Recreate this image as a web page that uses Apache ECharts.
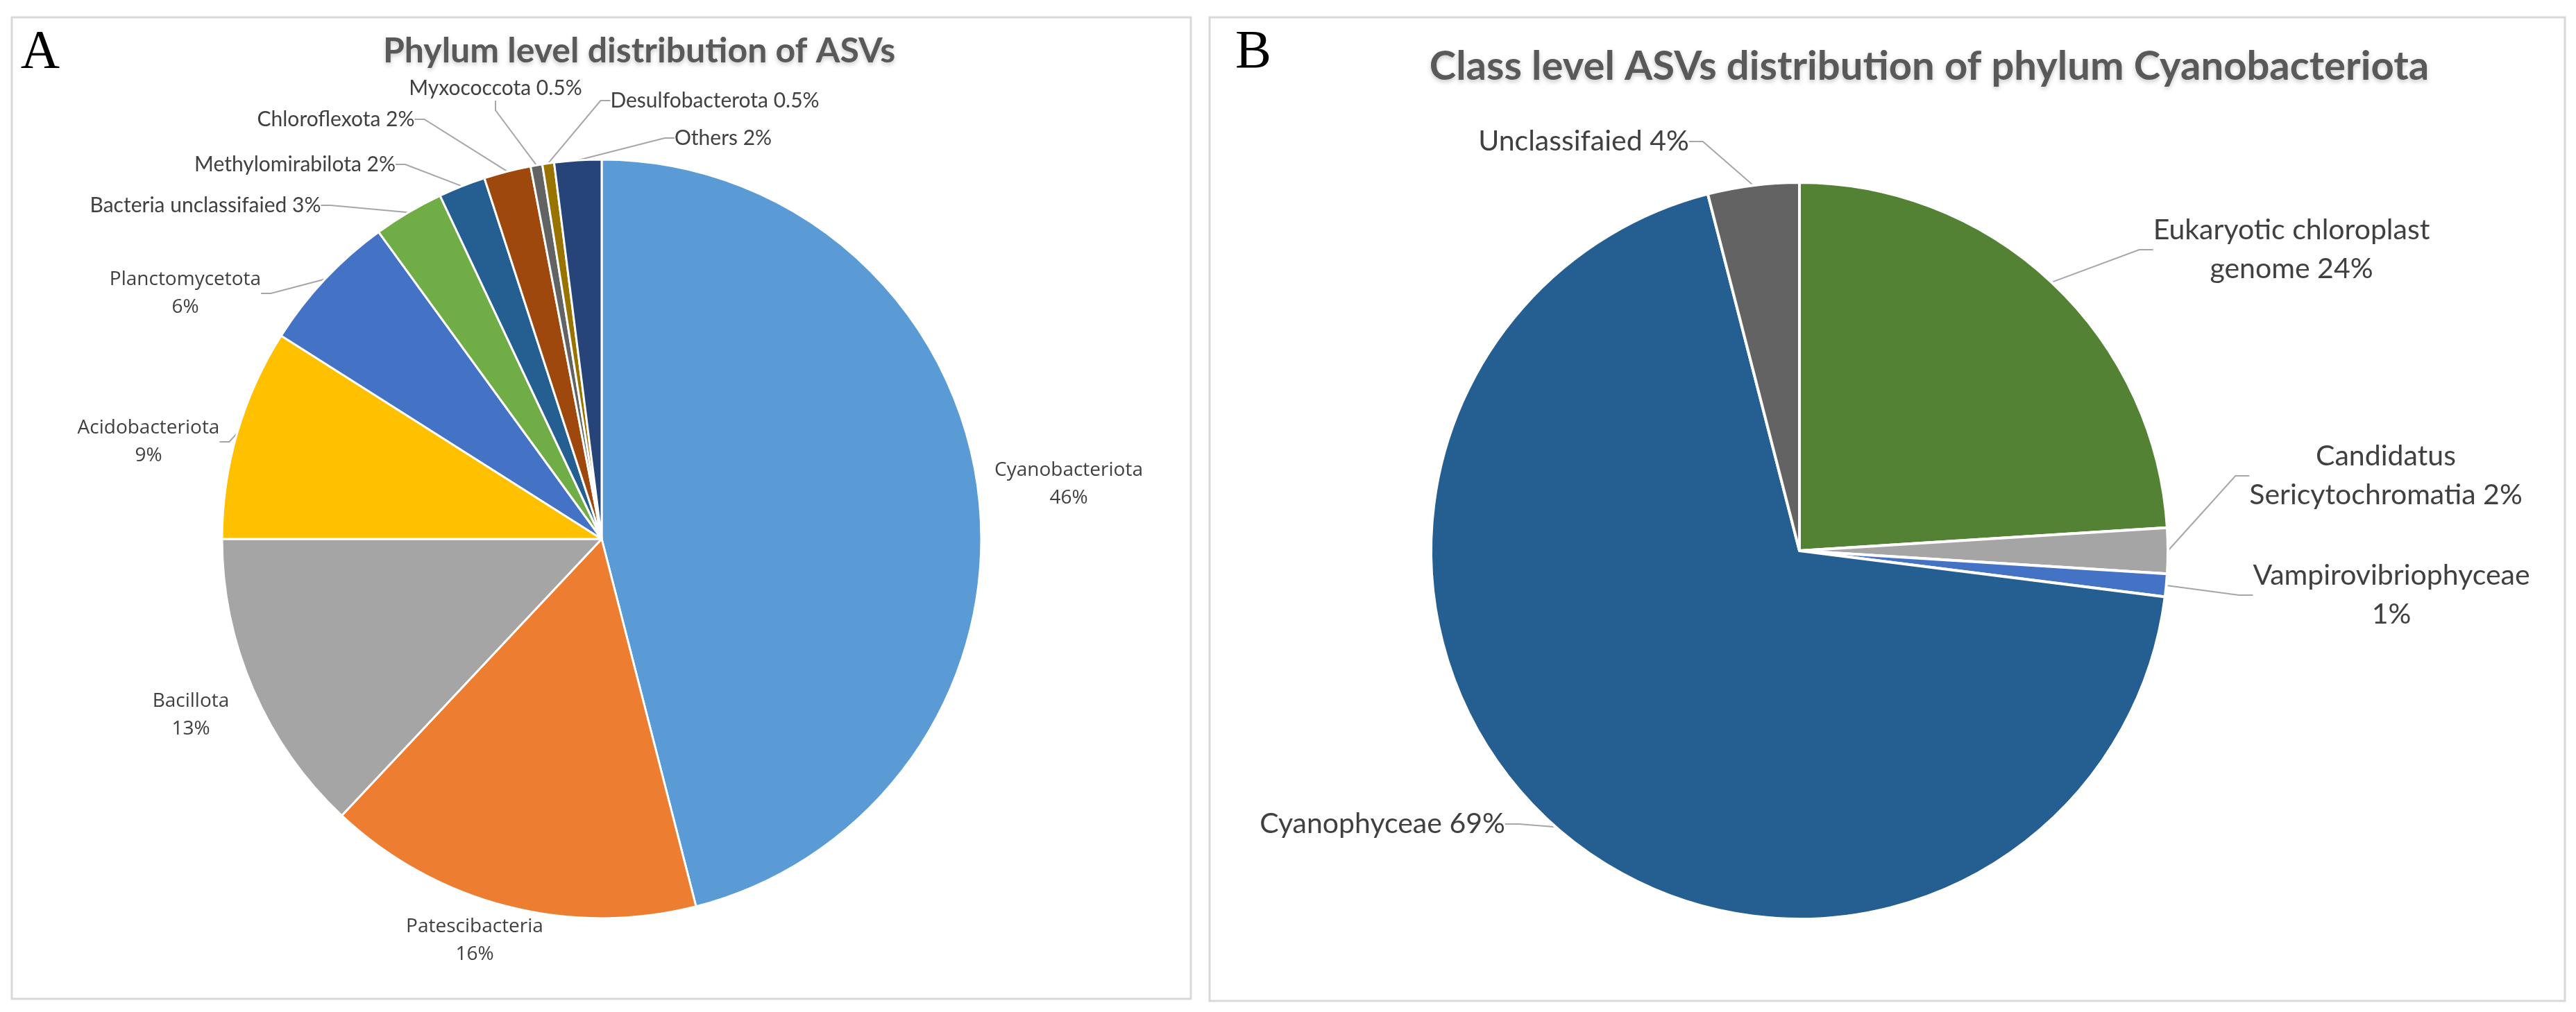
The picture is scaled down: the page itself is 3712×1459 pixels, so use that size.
<!DOCTYPE html>
<html>
<head>
<meta charset="utf-8">
<script src="https://cdn.jsdelivr.net/npm/echarts@6/dist/echarts.min.js"></script>
<style>
html, body { margin: 0; padding: 0; background: #ffffff; }
#chart { width: 3712px; height: 1459px; }
</style>
</head>
<body>
<div id="chart"></div>
<script>
// ---------------- DATA ----------------
const titleA = 'Phylum level distribution of ASVs';
const titleB = 'Class level ASVs distribution of phylum Cyanobacteriota';

const phylumNames = ['Cyanobacteriota', 'Patescibacteria', 'Bacillota', 'Acidobacteriota', 'Planctomycetota',
  'Bacteria unclassifaied', 'Methylomirabilota', 'Chloroflexota', 'Myxococcota', 'Desulfobacterota', 'Others'];
const phylumValues = [46, 16, 13, 9, 6, 3, 2, 2, 0.5, 0.5, 2];

const classNames = ['Eukaryotic chloroplast genome', 'Candidatus Sericytochromatia', 'Vampirovibriophyceae',
  'Cyanophyceae', 'Unclassifaied'];
const classValues = [24, 2, 1, 69, 4];

// ---------------- STYLES ----------------
const phylumColors = ['#5B9BD5', '#ED7D31', '#A5A5A5', '#FFC000', '#4472C4', '#70AD47',
  '#255E91', '#9E480E', '#636363', '#997300', '#264478'];
const classColors = ['#548235', '#A5A5A5', '#4472C4', '#255E91', '#636363'];

// label arrangement: 'stack' = name / pct on two lines, 'inline' = one line,
// 'wrap' = last word of the name moves to line two together with the pct
const phylumLabelMode = ['stack', 'stack', 'stack', 'stack', 'stack', 'inline', 'inline', 'inline', 'inline', 'inline', 'inline'];
const phylumLeader = [false, false, false, true, true, true, true, true, true, true, true];
const classLabelMode = ['wrap', 'wrap', 'stack', 'inline', 'inline'];
const classLeader = [true, true, true, true, true];

// label anchor (centre of the text block), px
const phylumLabelPos = [[1540, 698], [684, 1356], [275, 1031], [214, 637], [267, 423],
  [296, 296], [425, 237], [484, 172], [714, 127], [1030, 145], [1042, 199]];
const classLabelPos = [[3302, 360], [3438, 686], [3446, 858], [1992, 1188], [2282, 204]];

// ---------------- BUILD ----------------
function labelText(name, value, mode) {
  const pct = value + '%';
  if (mode === 'stack') return name + '\n' + pct;
  if (mode === 'wrap') {
    const k = name.lastIndexOf(' ');
    return name.slice(0, k) + '\n' + name.slice(k + 1) + ' ' + pct;
  }
  return name + ' ' + pct;
}

function layoutFrom(pos) {
  return function (params) {
    const p = pos[params.dataIndex];
    return { x: p[0], y: p[1], align: 'center', verticalAlign: 'middle', hideOverlap: false };
  };
}

const phylumData = phylumNames.map((n, i) => ({
  name: n,
  value: phylumValues[i],
  itemStyle: { color: phylumColors[i] },
  labelLine: { show: phylumLeader[i] },
  label: phylumLabelMode[i] === 'stack'
    ? { fontFamily: 'Open Sans', fontSize: 28, lineHeight: 40 }
    : { fontFamily: 'Lato', fontSize: 30, lineHeight: 36 }
}));

const classData = classNames.map((n, i) => ({
  name: n,
  value: classValues[i],
  itemStyle: { color: classColors[i] },
  labelLine: { show: classLeader[i] },
  label: { fontFamily: 'Lato', fontSize: 41, lineHeight: 56 }
}));

const leaderStyle = { color: '#A6A6A6', width: 2 };

const chart = echarts.init(document.getElementById('chart'), null, { renderer: 'canvas' });

chart.setOption({
  backgroundColor: '#ffffff',
  animation: false,
  textStyle: { fontFamily: 'Lato' },
  graphic: [
    { type: 'rect', silent: true, z: -10,
      shape: { x: 17, y: 25, width: 1699, height: 1415 },
      style: { fill: '#ffffff', stroke: '#D9D9D9', lineWidth: 3 } },
    { type: 'rect', silent: true, z: -10,
      shape: { x: 1743, y: 25, width: 1953, height: 1418 },
      style: { fill: '#ffffff', stroke: '#D9D9D9', lineWidth: 3 } },
    { type: 'text', silent: true, x: 58, y: 77,
      style: { text: 'A', font: '78px "Liberation Serif"', fill: '#000000',
        align: 'center', verticalAlign: 'middle', textAlign: 'center', textVerticalAlign: 'middle' } },
    { type: 'text', silent: true, x: 1806, y: 77,
      style: { text: 'B', font: '78px "Liberation Serif"', fill: '#000000',
        align: 'center', verticalAlign: 'middle', textAlign: 'center', textVerticalAlign: 'middle' } },
    { type: 'text', silent: true, x: 921, y: 74,
      style: { text: titleA, font: 'bold 50px Lato', fill: '#595959',
        align: 'center', verticalAlign: 'middle', textAlign: 'center', textVerticalAlign: 'middle',
        textShadowColor: 'rgba(0,0,0,0.22)', textShadowBlur: 6, textShadowOffsetY: 3 } },
    { type: 'text', silent: true, x: 2780, y: 96,
      style: { text: titleB, font: 'bold 58px Lato', fill: '#595959',
        align: 'center', verticalAlign: 'middle', textAlign: 'center', textVerticalAlign: 'middle',
        textShadowColor: 'rgba(0,0,0,0.22)', textShadowBlur: 6, textShadowOffsetY: 3 } }
  ],
  series: [
    {
      type: 'pie',
      name: titleA,
      center: [867, 777],
      radius: 547,
      startAngle: 90,
      clockwise: true,
      avoidLabelOverlap: false,
      emphasis: { disabled: true },
      itemStyle: { borderColor: '#ffffff', borderWidth: 3 },
      label: {
        show: true,
        position: 'outside',
        color: '#404040',
        formatter: p => labelText(p.name, p.value, phylumLabelMode[p.dataIndex])
      },
      labelLine: { show: true, length: 10, length2: 14, lineStyle: leaderStyle },
      labelLayout: layoutFrom(phylumLabelPos),
      data: phylumData
    },
    {
      type: 'pie',
      name: titleB,
      center: [2593, 794],
      radius: 531,
      startAngle: 90,
      clockwise: true,
      avoidLabelOverlap: false,
      emphasis: { disabled: true },
      itemStyle: { borderColor: '#ffffff', borderWidth: 4 },
      label: {
        show: true,
        position: 'outside',
        color: '#404040',
        formatter: p => labelText(p.name, p.value, classLabelMode[p.dataIndex])
      },
      labelLine: { show: true, length: 10, length2: 20, lineStyle: leaderStyle },
      labelLayout: layoutFrom(classLabelPos),
      data: classData
    }
  ]
});
</script>
</body>
</html>
